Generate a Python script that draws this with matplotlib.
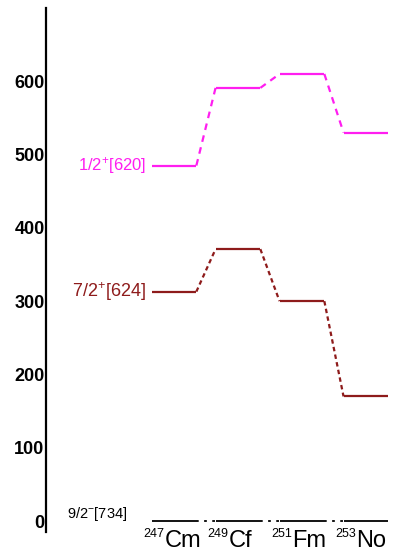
import matplotlib
matplotlib.use("Agg")
import matplotlib.pyplot as plt

plt.rcParams["font.family"] = ["Liberation Sans", "DejaVu Sans"]
plt.rcParams["mathtext.fontset"] = "custom"
plt.rcParams["mathtext.rm"] = "Liberation Sans"
plt.rcParams["mathtext.it"] = "Liberation Sans"

# isotones, left to right
mass_numbers = ["247", "249", "251", "253"]
elements = ["Cm", "Cf", "Fm", "No"]

# level energies (keV)
lvl_620 = [485, 591, 610, 530]
lvl_624 = [313, 371, 300, 170]
lvl_734 = [0, 0, 0, 0]

label_620 = r"1/2$^{+}$[620]"
label_624 = r"7/2$^{+}$[624]"
label_734 = r"9/2$^{-}$[734]"

yticks = [0, 100, 200, 300, 400, 500, 600]

MAGENTA = "#ff1ef0"
BROWN = "#8e1b1b"

fig = plt.figure(figsize=(3.96, 5.56), dpi=100)
ax = fig.add_axes([46 / 396, 24 / 556, 350 / 396, 524 / 556])
ax.set_xlim(-2.0, 3.47)
ax.set_ylim(-15, 700)

hw = 0.35


def draw_levels(vals, color, dash, lw=1.6):
    for i, v in enumerate(vals):
        ax.plot([i - hw, i + hw], [v, v], color=color, lw=lw, solid_capstyle="butt")
        if i + 1 < len(vals):
            ax.plot([i + hw, i + 1 - hw], [v, vals[i + 1]], color=color, lw=lw,
                    linestyle=dash)


draw_levels(lvl_620, MAGENTA, (0, (3, 2.5)))
draw_levels(lvl_624, BROWN, (0, (2, 1.5)))
draw_levels(lvl_734, "black", (0, (1.5, 3)), lw=1.3)

ax.text(-hw - 0.09, lvl_620[0], label_620, color=MAGENTA, fontsize=12,
        ha="right", va="center")
ax.text(-hw - 0.09, lvl_624[0], label_624, color=BROWN, fontsize=13,
        ha="right", va="center")
ax.text(-0.73, lvl_734[0] + 9, label_734, color="black", fontsize=10.5,
        ha="right", va="center")

# nucleus names below the levels: small mass number + element symbol
for i, (a, el) in enumerate(zip(mass_numbers, elements)):
    x0 = i - 0.15
    ax.text(x0, -27, el, fontsize=17, ha="left", va="center", clip_on=False)
    ax.text(x0, -18, a, fontsize=9, ha="right", va="center", clip_on=False)

for s in ["top", "right", "bottom"]:
    ax.spines[s].set_visible(False)
ax.spines["left"].set_linewidth(1.6)
ax.set_xticks([])
ax.set_yticks(yticks)
ax.set_yticklabels([str(t) for t in yticks], fontsize=13, fontweight="bold")
ax.tick_params(axis="y", length=0, pad=1)

fig.savefig("out.png", dpi=100)
